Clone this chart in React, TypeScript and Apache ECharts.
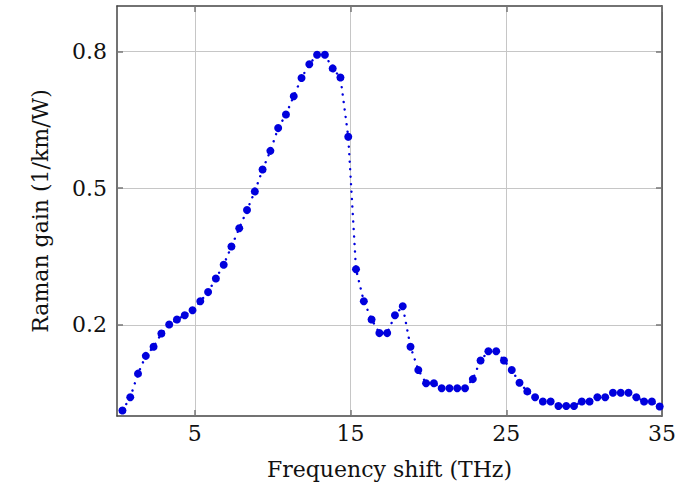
import React, { useEffect, useRef } from "react";
import * as echarts from "echarts";

const freq = [
  0.35, 0.85, 1.35, 1.85, 2.35, 2.85, 3.35, 3.85, 4.35, 4.85,
  5.35, 5.85, 6.35, 6.85, 7.35, 7.85, 8.35, 8.85, 9.35, 9.85,
  10.35, 10.85, 11.35, 11.85, 12.35, 12.85, 13.35, 13.85, 14.35, 14.85,
  15.35, 15.85, 16.35, 16.85, 17.35, 17.85, 18.35, 18.85, 19.35, 19.85,
  20.35, 20.85, 21.35, 21.85, 22.35, 22.85, 23.35, 23.85, 24.35, 24.85,
  25.35, 25.85, 26.35, 26.85, 27.35, 27.85, 28.35, 28.85, 29.35, 29.85,
  30.35, 30.85, 31.35, 31.85, 32.35, 32.85, 33.35, 33.85, 34.35, 34.85,
];

const gain = [
  0.012, 0.041, 0.093, 0.132, 0.152, 0.181, 0.201, 0.212, 0.221, 0.232,
  0.252, 0.272, 0.302, 0.332, 0.372, 0.412, 0.452, 0.493, 0.541, 0.582,
  0.632, 0.662, 0.702, 0.742, 0.772, 0.793, 0.793, 0.763, 0.743, 0.613,
  0.322, 0.252, 0.212, 0.182, 0.182, 0.221, 0.241, 0.152, 0.101, 0.072,
  0.072, 0.061, 0.061, 0.061, 0.061, 0.081, 0.122, 0.142, 0.142, 0.122,
  0.101, 0.073, 0.054, 0.041, 0.032, 0.032, 0.022, 0.022, 0.022, 0.032,
  0.032, 0.041, 0.041, 0.051, 0.051, 0.051, 0.041, 0.032, 0.032, 0.021,
];

const xTicks = [5, 15, 25, 35];
const yTicks = [0.2, 0.5, 0.8];

const xTitle = "Frequency shift (THz)";
const yTitle = "Raman gain (1/km/W)";

const FONT = "DejaVu Serif";
const BLUE = "#0000dd";
const FRAME = "#444444";
const GRID = "#c6c6c6";
const TICK = "#777777";

export default function App() {
  const ref = useRef<HTMLDivElement>(null);

  useEffect(() => {
    if (!ref.current) return;
    const chart = echarts.init(ref.current, null, { renderer: "svg" });
    const data = freq.map((f, i) => [f, gain[i]]);

    const xBase = {
      type: "value" as const,
      min: 0,
      max: 35,
      axisLine: { show: true, onZero: false, lineStyle: { color: FRAME, width: 1.5 } },
      axisTick: {
        show: true,
        inside: true,
        length: 6,
        customValues: xTicks,
        lineStyle: { color: TICK, width: 1.5 },
      },
    };
    const yBase = {
      type: "value" as const,
      min: 0,
      max: 0.9,
      axisLine: { show: true, onZero: false, lineStyle: { color: FRAME, width: 1.5 } },
      axisTick: {
        show: true,
        inside: true,
        length: 6,
        customValues: yTicks,
        lineStyle: { color: TICK, width: 1.5 },
      },
    };

    chart.setOption({
      animation: false,
      backgroundColor: "#ffffff",
      grid: { left: 117, right: 22, top: 6, bottom: 71 },
      xAxis: [
        {
          ...xBase,
          position: "bottom",
          name: xTitle,
          nameLocation: "middle",
          nameGap: 42,
          nameTextStyle: { fontFamily: FONT, fontSize: 22, color: "#111" },
          axisLabel: {
            show: true,
            customValues: xTicks,
            margin: 6,
            fontFamily: FONT,
            fontSize: 22,
            color: "#111",
          },
          splitLine: { show: true, lineStyle: { color: GRID, width: 1 } },
        },
        {
          ...xBase,
          position: "top",
          axisLabel: { show: false },
          splitLine: { show: false },
        },
      ],
      yAxis: [
        {
          ...yBase,
          position: "left",
          name: yTitle,
          nameLocation: "middle",
          nameGap: 66,
          nameRotate: 90,
          nameTextStyle: { fontFamily: FONT, fontSize: 22, color: "#111" },
          axisLabel: {
            show: true,
            customValues: yTicks,
            margin: 10,
            fontFamily: FONT,
            fontSize: 22,
            color: "#111",
            formatter: (v: number) => v.toFixed(1),
          },
          splitLine: { show: true, lineStyle: { color: GRID, width: 1 } },
        },
        {
          ...yBase,
          position: "right",
          axisLabel: { show: false },
          splitLine: { show: false },
        },
      ],
      series: [
        {
          type: "line",
          xAxisIndex: 0,
          yAxisIndex: 0,
          data,
          symbol: "circle",
          symbolSize: 8,
          showSymbol: true,
          itemStyle: { color: BLUE },
          lineStyle: { color: BLUE, width: 2.4, type: [0.1, 7.4], cap: "round" },
          clip: false,
          z: 5,
        },
      ],
    });

    return () => chart.dispose();
  }, []);

  return (
    <div
      ref={ref}
      style={{ position: "fixed", left: 0, top: 0, width: 684, height: 487 }}
    />
  );
}
